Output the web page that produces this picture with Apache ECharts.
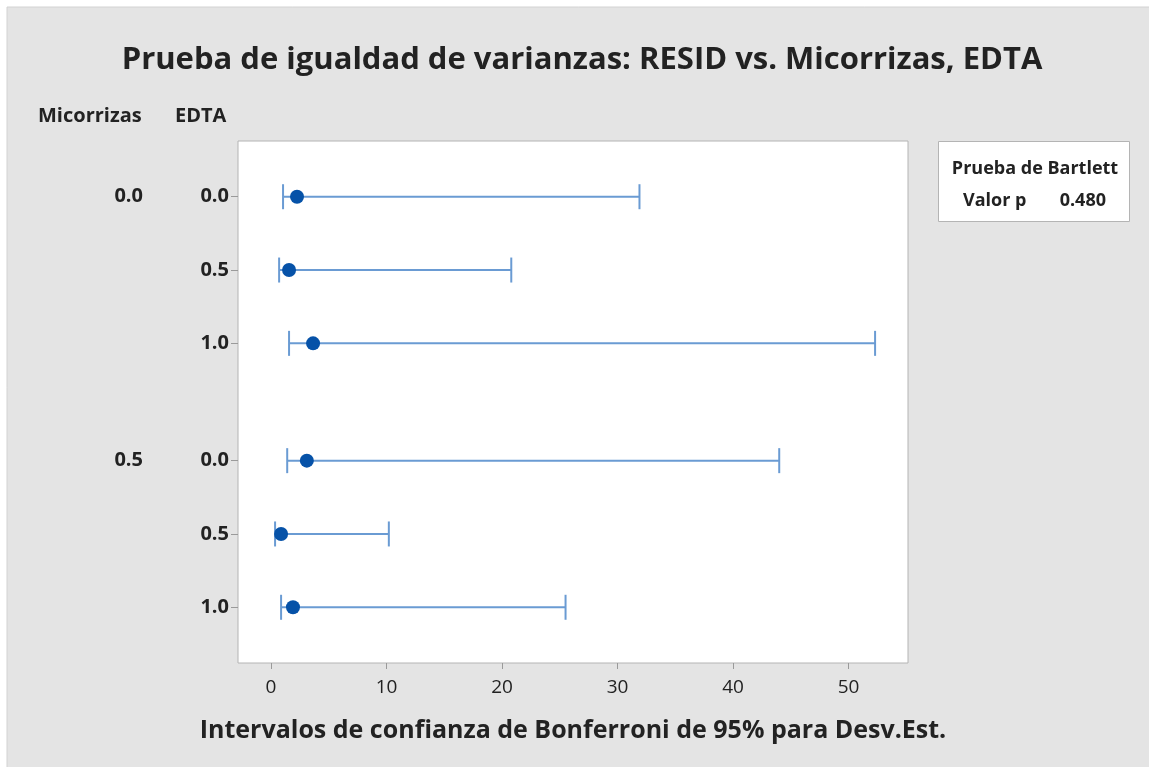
<!DOCTYPE html>
<html>
<head>
<meta charset="utf-8">
<script src="https://cdn.jsdelivr.net/npm/echarts@6/dist/echarts.min.js"></script>
<style>
  html, body { margin: 0; padding: 0; background: #fff; }
  #chart { width: 1149px; height: 767px; }
</style>
</head>
<body>
<div id="chart"></div>
<script>
// filas: Micorrizas x EDTA
const edtaLabels = ['0.0', '0.5', '1.0', '0.0', '0.5', '1.0']
const micLabels = ['0.0', '0.5']
const rowPos = [0, 1, 2, 3.6, 4.6, 5.6]
const micPos = [0, 3.6]
// intervalos de Bonferroni para la desv. est.
const lower = [1.04, 0.7, 1.56, 1.4, 0.35, 0.87]
const sigma = [2.25, 1.56, 3.64, 3.1, 0.87, 1.9]
const upper = [31.9, 20.8, 52.3, 44.0, 10.2, 25.5]
const xTicks = [0, 10, 20, 30, 40, 50]

const FONT = 'Open Sans'
const lineColor = '#6a9bd3'
const dotColor = '#0652a8'
const tickColor = '#9a9a9a'

let chart = echarts.init(document.getElementById('chart'))

let intervalData = rowPos.map((y, i) => [lower[i], upper[i], y])
let pointData = rowPos.map((y, i) => [sigma[i], y])

let option = {
  backgroundColor: '#fff',
  animation: false,
  graphic: [
    {
      type: 'rect',
      z: -10,
      shape: { x: 7, y: 7, width: 1150, height: 770 },
      style: { fill: '#e4e4e4', stroke: '#d2d2d2', lineWidth: 1 },
    },
    {
      type: 'text',
      x: 582,
      y: 60,
      style: {
        text: 'Prueba de igualdad de varianzas: RESID vs. Micorrizas, EDTA',
        font: 'bold 31px ' + FONT,
        fill: '#222',
        align: 'center',
        verticalAlign: 'middle',
      },
    },
    {
      type: 'text',
      x: 38,
      y: 116,
      style: { text: 'Micorrizas', font: 'bold 20px ' + FONT, fill: '#222', verticalAlign: 'middle' },
    },
    {
      type: 'text',
      x: 175,
      y: 116,
      style: { text: 'EDTA', font: 'bold 20px ' + FONT, fill: '#222', verticalAlign: 'middle' },
    },
    {
      type: 'rect',
      shape: { x: 938.5, y: 141.5, width: 191, height: 80 },
      style: { fill: '#fff', stroke: '#b4b4b4', lineWidth: 1 },
    },
    {
      type: 'text',
      x: 1035,
      y: 169,
      style: {
        text: 'Prueba de Bartlett',
        font: 'bold 18px ' + FONT,
        fill: '#222',
        align: 'center',
        verticalAlign: 'middle',
      },
    },
    {
      type: 'text',
      x: 963,
      y: 201,
      style: {
        text: 'Valor p',
        font: 'bold 18px ' + FONT,
        fill: '#222',
        verticalAlign: 'middle',
      },
    },
    {
      type: 'text',
      x: 1106,
      y: 201,
      style: {
        text: '0.480',
        font: 'bold 18px ' + FONT,
        fill: '#222',
        align: 'right',
        verticalAlign: 'middle',
      },
    },
  ],
  grid: {
    left: 238,
    right: 241,
    top: 141,
    bottom: 104,
    show: true,
    backgroundColor: '#fff',
    borderColor: '#b4b4b4',
    borderWidth: 1,
  },
  xAxis: {
    type: 'value',
    min: -2.86,
    max: 55.15,
    name: 'Intervalos de confianza de Bonferroni de 95% para Desv.Est.',
    nameLocation: 'middle',
    nameGap: 55,
    nameTextStyle: { fontFamily: FONT, fontWeight: 'bold', fontSize: 25, color: '#222' },
    axisLine: { show: false, onZero: false },
    axisTick: {
      show: true,
      customValues: xTicks,
      length: 6,
      lineStyle: { color: tickColor },
    },
    axisLabel: {
      customValues: xTicks,
      fontFamily: FONT,
      fontSize: 19,
      color: '#222',
      margin: 15,
    },
    splitLine: { show: false },
  },
  yAxis: [
    {
      type: 'value',
      inverse: true,
      min: -0.76,
      max: 6.36,
      axisLine: { show: false, onZero: false },
      axisTick: {
        show: true,
        customValues: rowPos,
        length: 7,
        lineStyle: { color: tickColor },
      },
      axisLabel: {
        customValues: rowPos,
        formatter: (v) => edtaLabels[rowPos.indexOf(v)],
        fontFamily: FONT,
        fontWeight: 'bold',
        fontSize: 20,
        color: '#222',
        margin: 9,
      },
      splitLine: { show: false },
    },
    {
      type: 'value',
      inverse: true,
      position: 'left',
      offset: 87,
      min: -0.76,
      max: 6.36,
      axisLine: { show: false, onZero: false },
      axisTick: { show: false },
      axisLabel: {
        customValues: micPos,
        formatter: (v) => micLabels[micPos.indexOf(v)],
        fontFamily: FONT,
        fontWeight: 'bold',
        fontSize: 20,
        color: '#222',
        margin: 8,
      },
      splitLine: { show: false },
    },
  ],
  series: [
    {
      type: 'custom',
      data: intervalData,
      encode: { x: [0, 1], y: 2 },
      renderItem: (params, api) => {
        let a = api.coord([api.value(0), api.value(2)])
        let b = api.coord([api.value(1), api.value(2)])
        let h = 12.5
        let st = { stroke: lineColor, lineWidth: 2 }
        return {
          type: 'group',
          children: [
            { type: 'line', shape: { x1: a[0], y1: a[1], x2: b[0], y2: b[1] }, style: st },
            { type: 'line', shape: { x1: a[0], y1: a[1] - h, x2: a[0], y2: a[1] + h }, style: st },
            { type: 'line', shape: { x1: b[0], y1: b[1] - h, x2: b[0], y2: b[1] + h }, style: st },
          ],
        }
      },
    },
    {
      type: 'scatter',
      data: pointData,
      symbol: 'circle',
      symbolSize: 14,
      itemStyle: { color: dotColor, opacity: 1 },
      z: 5,
    },
  ],
}

chart.setOption(option)
window.addEventListener('resize', () => {
  chart.resize()
})
</script>
</body>
</html>
